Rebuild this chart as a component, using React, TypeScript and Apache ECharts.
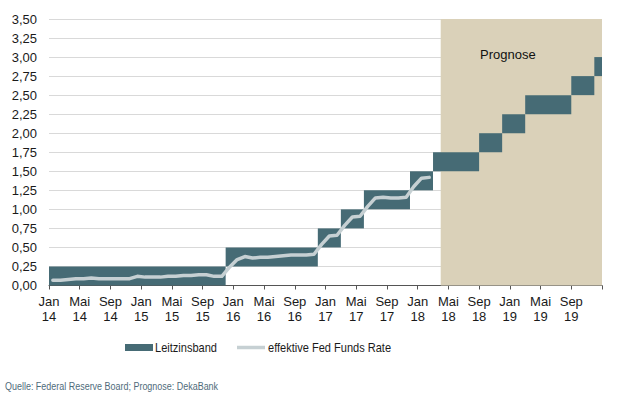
import React, { useEffect, useRef } from "react";
import * as echarts from "echarts";

// X axis: months since Jan 2014 (0 = Jan 14, 72 = Jan 20)
const tickLabels = [
  "Jan\n14", "Mai\n14", "Sep\n14",
  "Jan\n15", "Mai\n15", "Sep\n15",
  "Jan\n16", "Mai\n16", "Sep\n16",
  "Jan\n17", "Mai\n17", "Sep\n17",
  "Jan\n18", "Mai\n18", "Sep\n18",
  "Jan\n19", "Mai\n19", "Sep\n19",
  "",
];

// Leitzinsband (target range) steps: start month, end month, lower, upper
const bandStart = [0, 23, 35, 38, 41, 47, 50, 56, 59, 62, 68, 71];
const bandEnd = [23, 35, 38, 41, 47, 50, 56, 59, 62, 68, 71, 72];
const bandLower = [0, 0.25, 0.5, 0.75, 1.0, 1.25, 1.5, 1.75, 2.0, 2.25, 2.5, 2.75];
const bandUpper = [0.25, 0.5, 0.75, 1.0, 1.25, 1.5, 1.75, 2.0, 2.25, 2.5, 2.75, 3.0];

// effektive Fed Funds Rate, monthly from Jan 2014 to Feb 2018
const effr = [
  0.07, 0.07, 0.08, 0.09, 0.09, 0.10, 0.09, 0.09, 0.09, 0.09, 0.09, 0.12,
  0.11, 0.11, 0.11, 0.12, 0.12, 0.13, 0.13, 0.14, 0.14, 0.12, 0.12, 0.24,
  0.34, 0.38, 0.36, 0.37, 0.37, 0.38, 0.39, 0.40, 0.40, 0.40, 0.41, 0.54,
  0.65, 0.66, 0.79, 0.90, 0.91, 1.04, 1.15, 1.16, 1.15, 1.15, 1.16, 1.30,
  1.41, 1.42,
];

// Prognose range (months)
const forecastStart = 51;
const forecastEnd = 72;

const BAND_COLOR = "#466b75";
const LINE_COLOR = "#c6d0d3";
const FORECAST_COLOR = "#dad1b9";
const FONT = "Liberation Sans, Arial, sans-serif";

export default function App() {
  const ref = useRef<HTMLDivElement>(null);

  useEffect(() => {
    if (!ref.current) return;
    const chart = echarts.init(ref.current, null, { renderer: "svg" });

    const bandData = bandStart.map((s, i) => [s, bandEnd[i], bandLower[i], bandUpper[i]]);
    const lineData = effr.map((v, i) => [i + 0.5, v]);

    chart.setOption({
      animation: false,
      textStyle: { fontFamily: FONT },
      grid: { left: 49, right: 29, top: 19, bottom: 110.5, containLabel: false },
      xAxis: {
        type: "value",
        min: 0,
        max: 72,
        interval: 4,
        axisLine: { show: true, lineStyle: { color: "#555", width: 1 } },
        axisTick: { show: true, length: 4, lineStyle: { color: "#555" } },
        splitLine: { show: false },
        axisLabel: {
          color: "#1a1a1a",
          fontSize: 13,
          lineHeight: 15,
          margin: 8,
          showMaxLabel: true,
          formatter: (v: number) => tickLabels[Math.round(v / 4)] ?? "",
        },
      },
      yAxis: {
        type: "value",
        min: 0,
        max: 3.5,
        interval: 0.25,
        axisLine: { show: false },
        axisTick: { show: false },
        splitLine: { show: true, lineStyle: { color: "#d9d9d9", width: 1 } },
        axisLabel: {
          color: "#1a1a1a",
          fontSize: 13,
          margin: 12,
          formatter: (v: number) => v.toFixed(2).replace(".", ","),
        },
      },
      series: [
        {
          type: "line",
          name: "forecast",
          data: [],
          silent: true,
          markArea: {
            silent: true,
            itemStyle: { color: FORECAST_COLOR, opacity: 1 },
            data: [[{ xAxis: forecastStart, yAxis: 0 }, { xAxis: forecastEnd, yAxis: 3.5 }]],
            label: { show: false },
          },
          z: 1,
        },
        {
          type: "custom",
          name: "Leitzinsband",
          data: bandData,
          z: 3,
          renderItem: (params: any, api: any) => {
            const p1 = api.coord([api.value(0), api.value(3)]);
            const p2 = api.coord([api.value(1), api.value(2)]);
            return {
              type: "rect",
              shape: { x: p1[0], y: p1[1], width: p2[0] - p1[0], height: p2[1] - p1[1] },
              style: { fill: BAND_COLOR },
            };
          },
          encode: { x: [0, 1], y: [2, 3] },
        },
        {
          type: "line",
          name: "effektive Fed Funds Rate",
          data: lineData,
          showSymbol: false,
          symbol: "none",
          smooth: false,
          lineStyle: { color: LINE_COLOR, width: 3.5, cap: "round", join: "round" },
          z: 4,
        },
      ],
      graphic: [
        {
          type: "text",
          left: 480,
          top: 48,
          style: { text: "Prognose", fill: "#111", fontSize: 13, fontFamily: FONT },
          z: 10,
        },
        {
          type: "rect",
          shape: { x: 125, y: 344, width: 28, height: 7 },
          style: { fill: BAND_COLOR },
        },
        {
          type: "text",
          x: 155,
          y: 348,
          scaleX: 0.85,
          style: {
            text: "Leitzinsband",
            fill: "#1a1a1a",
            fontSize: 13,
            fontFamily: FONT,
            verticalAlign: "middle",
          },
        },
        {
          type: "line",
          shape: { x1: 237, y1: 347.5, x2: 265, y2: 347.5 },
          style: { stroke: LINE_COLOR, lineWidth: 3.5 },
        },
        {
          type: "text",
          x: 268,
          y: 348,
          scaleX: 0.85,
          style: {
            text: "effektive Fed Funds Rate",
            fill: "#1a1a1a",
            fontSize: 13,
            fontFamily: FONT,
            verticalAlign: "middle",
          },
        },
        {
          type: "text",
          x: 5,
          y: 386,
          scaleX: 0.78,
          style: {
            text: "Quelle: Federal Reserve Board; Prognose: DekaBank",
            fill: "#4f6b7b",
            fontSize: 11.5,
            fontFamily: FONT,
            verticalAlign: "middle",
          },
        },
      ],
    });

    return () => chart.dispose();
  }, []);

  return <div ref={ref} style={{ width: 631, height: 396, position: "absolute", left: 0, top: 0 }} />;
}
